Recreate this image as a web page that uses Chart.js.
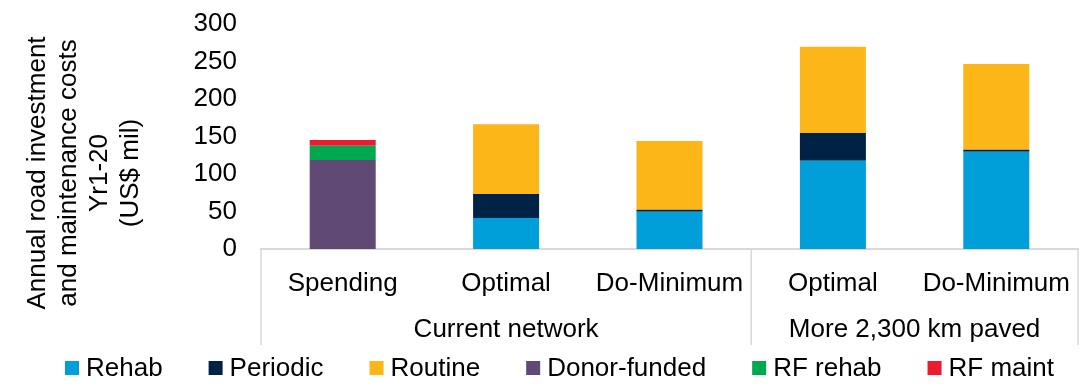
<!doctype html>
<html lang="en">
  <head>
    <meta charset="utf-8">
    <style>
      * {
        margin: 0;
        padding: 0;
      }
      body {
        background: white;
      }
      .chartBox {
        width: 1089px;
        height: 389px;
      }
    </style>
  </head>
  <body>
    <div class="chartBox">
      <canvas id="myChart"></canvas>
    </div>

    <script src="https://cdn.jsdelivr.net/npm/chart.js/dist/chart.umd.min.js"></script>
    <script>
    // categories and groups
    const categories = ['Spending', 'Optimal', 'Do-Minimum', 'Optimal', 'Do-Minimum'];
    const groups = [
      { label: 'Current network', from: 0, to: 2 },
      { label: 'More 2,300 km paved', from: 3, to: 4 }
    ];

    // US$ mil per year, Yr1-20
    const rehab      = [null, 41.3, 49.7, 117.7, 129.7];
    const periodic   = [null, 32.0,  2.7,  37.0,   2.7];
    const routine    = [null, 93.0, 91.6, 115.0, 114.3];
    const donor      = [118.7, null, null, null, null];
    const rfRehab    = [19.0, null, null, null, null];
    const rfMaint    = [7.6, null, null, null, null];

    const yTicks = [0, 50, 100, 150, 200, 250, 300];
    const yTitle = ['Annual road investment', 'and maintenance costs', 'Yr1-20', '(US$ mil)'];

    const FONT = '"Liberation Sans", Arial, sans-serif';
    Chart.defaults.font.family = FONT;
    Chart.defaults.color = '#000';

    const lineGrey = '#d9d9d9';

    const data = {
      labels: categories,
      datasets: [
        { label: 'Rehab', data: rehab, backgroundColor: '#009fda' },
        { label: 'Periodic', data: periodic, backgroundColor: '#002244' },
        { label: 'Routine', data: routine, backgroundColor: '#fcb618' },
        { label: 'Donor-funded', data: donor, backgroundColor: '#604a75' },
        { label: 'RF rehab', data: rfRehab, backgroundColor: '#00a84f' },
        { label: 'RF maint', data: rfMaint, backgroundColor: '#ec1c2e' }
      ]
    };
    data.datasets.forEach(ds => {
      ds.barPercentage = 0.404;
      ds.categoryPercentage = 1;
      ds.borderWidth = 0;
    });

    // rotated multi-line y title
    const yAxisTitle = {
      id: 'yAxisTitle',
      afterDraw(chart) {
        const { ctx } = chart;
        ctx.save();
        ctx.font = '26px ' + FONT;
        ctx.fillStyle = '#000';
        ctx.textAlign = 'center';
        ctx.textBaseline = 'alphabetic';
        yTitle.forEach((line, i) => {
          ctx.save();
          ctx.translate(45 + i * 31, 173);
          ctx.rotate(-Math.PI / 2);
          ctx.fillText(line, 0, 0);
          ctx.restore();
        });
        ctx.restore();
      }
    };

    // group labels under the category labels, with divider lines
    const groupAxis = {
      id: 'groupAxis',
      afterDraw(chart) {
        const { ctx, scales: { x } } = chart;
        const step = x.getPixelForValue(1) - x.getPixelForValue(0);
        ctx.save();
        ctx.strokeStyle = lineGrey;
        ctx.lineWidth = 1.5;
        ctx.font = '26px ' + FONT;
        ctx.fillStyle = '#000';
        ctx.textAlign = 'center';
        ctx.textBaseline = 'alphabetic';
        const edges = [x.getPixelForValue(0) - step / 2];
        groups.forEach(g => {
          const left = x.getPixelForValue(g.from) - step / 2;
          const right = x.getPixelForValue(g.to) + step / 2;
          edges.push(right);
          ctx.fillText(g.label, (left + right) / 2, x.top + 88);
        });
        edges.forEach(px => {
          ctx.beginPath();
          ctx.moveTo(px, x.top);
          ctx.lineTo(px, x.top + 96);
          ctx.stroke();
        });
        ctx.restore();
      }
    };

    // legend row along the bottom
    const bottomLegend = {
      id: 'bottomLegend',
      afterDraw(chart) {
        const { ctx } = chart;
        ctx.save();
        ctx.font = '26px ' + FONT;
        ctx.textAlign = 'left';
        ctx.textBaseline = 'alphabetic';
        let px = 65;
        chart.data.datasets.forEach(ds => {
          ctx.fillStyle = ds.backgroundColor;
          ctx.fillRect(px, 361, 14, 14);
          ctx.fillStyle = '#000';
          ctx.fillText(ds.label, px + 21, 376);
          px += 21 + ctx.measureText(ds.label).width + 46;
        });
        ctx.restore();
      }
    };

    const config = {
      type: 'bar',
      data,
      options: {
        responsive: true,
        maintainAspectRatio: false,
        animation: false,
        layout: {
          padding: { top: 24, right: 11, bottom: 0, left: 0 }
        },
        scales: {
          x: {
            stacked: true,
            grid: { display: false, drawTicks: false },
            border: { display: true, color: lineGrey, width: 2 },
            ticks: { font: { size: 26 }, padding: 19, maxRotation: 0, autoSkip: false },
            afterFit(scale) {
              scale.height = 140;
              scale.paddingLeft = 0;
              scale.paddingRight = 0;
            }
          },
          y: {
            stacked: true,
            min: 0,
            max: 300,
            grid: { display: false, drawTicks: false },
            border: { display: false },
            ticks: { font: { size: 26 }, padding: 24, stepSize: 50 },
            afterBuildTicks(scale) { scale.ticks = yTicks.map(v => ({ value: v })); },
            afterFit(scale) {
              scale.width = 261;
              scale.paddingTop = 0;
              scale.paddingBottom = 0;
            }
          }
        },
        plugins: {
          legend: { display: false },
          tooltip: { enabled: false }
        }
      },
      plugins: [yAxisTitle, groupAxis, bottomLegend]
    };

    const myChart = new Chart(document.getElementById('myChart'), config);
    </script>
  </body>
</html>
